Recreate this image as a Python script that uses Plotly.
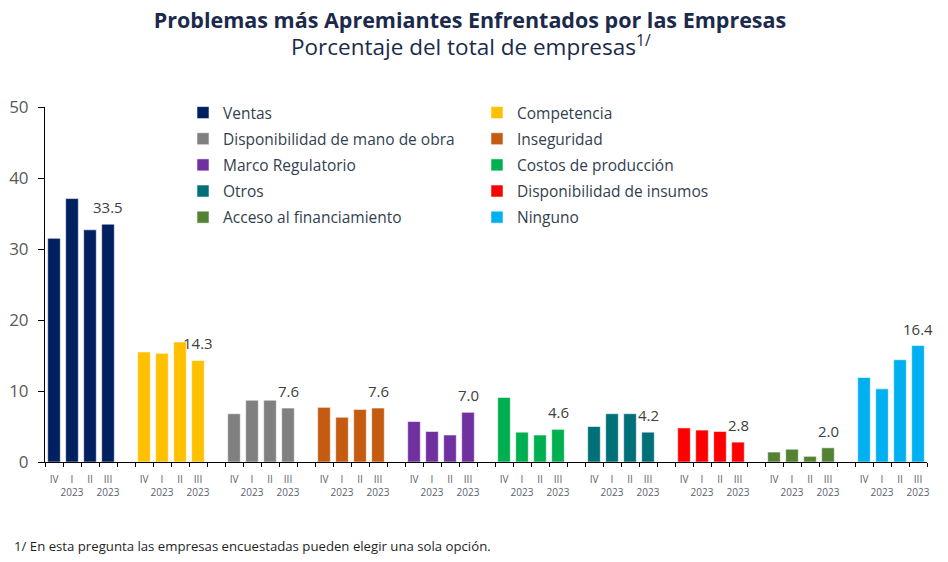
import plotly.graph_objects as go

# ---- data ----
categories = ["Ventas", "Competencia", "Disponibilidad de mano de obra", "Inseguridad",
              "Marco Regulatorio", "Costos de producción", "Otros",
              "Disponibilidad de insumos", "Acceso al financiamiento", "Ninguno"]
periods = ["IV", "I<br>2023", "II", "III<br>2023"]

ventas = [31.5, 37.1, 32.7, 33.5]
competencia = [15.5, 15.3, 16.9, 14.3]
mano_obra = [6.8, 8.7, 8.7, 7.6]
inseguridad = [7.7, 6.3, 7.4, 7.6]
marco = [5.7, 4.3, 3.8, 7.0]
costos = [9.1, 4.2, 3.8, 4.6]
otros = [5.0, 6.8, 6.8, 4.2]
insumos = [4.8, 4.5, 4.3, 2.8]
financiamiento = [1.4, 1.8, 0.8, 2.0]
ninguno = [11.9, 10.3, 14.4, 16.4]

series = [ventas, competencia, mano_obra, inseguridad, marco, costos, otros,
          insumos, financiamiento, ninguno]
colors = ["#002060", "#FFC000", "#808080", "#C55A11", "#7030A0", "#00B050",
          "#007078", "#FF0000", "#548235", "#00B0F0"]

FONT = "Open Sans"
W, H = 948, 562
OFF = 8  # page body margin offset
# plot area in page pixels: x 45..927, y 107..462
L, T = 45 - OFF, 107 - OFF
PW, PH = 882, 355
R, B = W - L - PW, H - T - PH


def px_x(p):
    return (p - OFF - L) / PW


def px_y(p):
    return (T + PH - (p - OFF)) / PH


fig = go.Figure()
tickvals, ticktext = [], []
for g, (name, vals, col) in enumerate(zip(categories, series, colors)):
    xs = [g * 5 + j for j in range(len(vals))]
    tickvals += xs
    ticktext += periods
    fig.add_trace(go.Bar(
        x=xs, y=vals, name=name, width=0.7,
        marker=dict(color=col, line=dict(color="rgba(255,255,255,0.55)", width=1)),
        legend="legend" if g % 2 == 0 else "legend2",
        legendgroup=name,
        hovertemplate="%{y:.1f}<extra>" + name + "</extra>",
    ))
    fig.add_annotation(
        x=xs[-1], y=vals[-1], text=f"{vals[-1]:.1f}", showarrow=False,
        yanchor="bottom", yshift=5,
        font=dict(family=FONT, size=15, color="#404040"),
    )

legend_common = dict(
    xanchor="left", y=px_y(96), yanchor="top",
    orientation="v", tracegroupgap=3, bgcolor="rgba(0,0,0,0)",
    font=dict(family=FONT, size=15.5, color="#333F50"),
)

fig.update_layout(
    width=W, height=H,
    margin=dict(l=L, r=R, t=T, b=B, autoexpand=False),
    paper_bgcolor="white", plot_bgcolor="white",
    barmode="overlay",
    font=dict(family=FONT, color="#404040"),
    title=dict(
        text="<b>Problemas más Apremiantes Enfrentados por las Empresas</b>",
        x=(470 - OFF) / W, xref="container", xanchor="center",
        y=1 - (20 - OFF) / H, yref="container", yanchor="middle",
        font=dict(family=FONT, size=21.5, color="#1B2A4A"),
    ),
    xaxis=dict(
        range=[-0.5, 48.5], tickmode="array", tickvals=tickvals, ticktext=ticktext,
        tickangle=0, ticks="", showline=True, linecolor="black", linewidth=1,
        tickfont=dict(family=FONT, size=10, color="#5B6270"),
        ticklabelstandoff=8, automargin=False,
        minor=dict(tickmode="linear", tick0=0.5, dtick=1, ticks="outside",
                   ticklen=4, tickcolor="black", tickwidth=1, showgrid=False),
        showgrid=False, zeroline=False,
    ),
    yaxis=dict(
        range=[0, 50], dtick=10, ticks="outside", ticklen=6, tickcolor="black",
        showline=True, linecolor="black", linewidth=1, showgrid=False, zeroline=False,
        tickfont=dict(family=FONT, size=17, color="#595959"), ticklabelstandoff=6,
        automargin=False,
    ),
    legend=dict(x=px_x(183), **legend_common),
    legend2=dict(x=px_x(477), **legend_common),
    showlegend=True,
)

fig.add_annotation(
    text="Porcentaje del total de empresas<sup>1/</sup>",
    xref="paper", yref="paper", x=px_x(471), y=px_y(45),
    xanchor="center", yanchor="middle", showarrow=False,
    font=dict(family=FONT, size=22.5, color="#1B2A4A"),
)
fig.add_annotation(
    text="1/ En esta pregunta las empresas encuestadas pueden elegir una sola opción.",
    xref="paper", yref="paper", x=px_x(12), y=px_y(546),
    xanchor="left", yanchor="middle", showarrow=False,
    font=dict(family=FONT, size=13.2, color="#1F1F1F"),
)

fig.write_html("out.html")
